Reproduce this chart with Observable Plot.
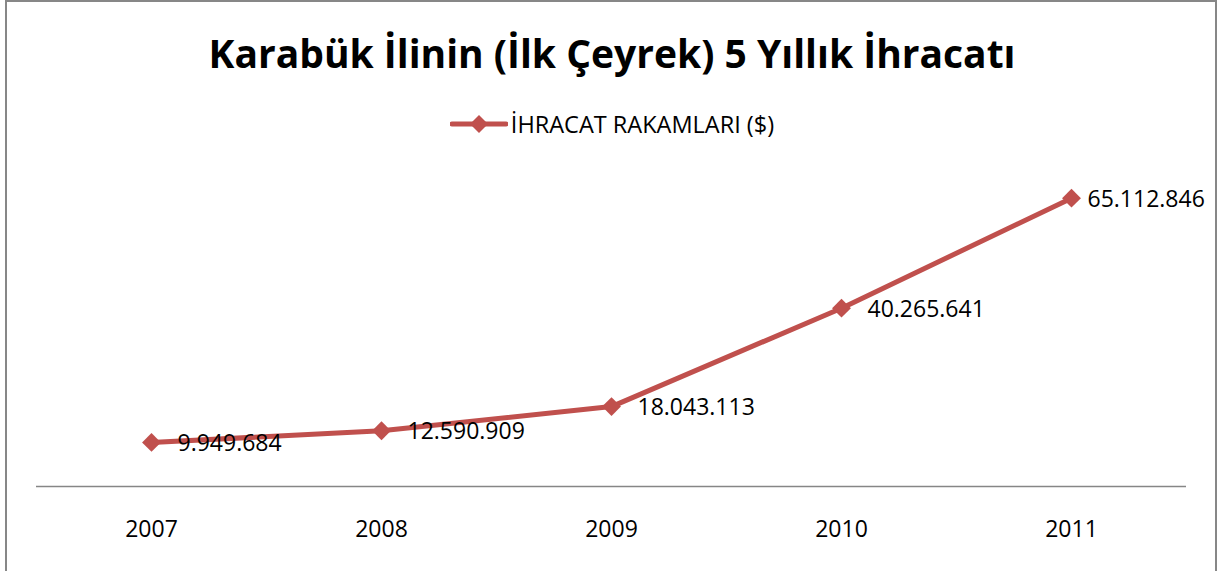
<!DOCTYPE html>
<html>
<head>
<meta charset="utf-8">
<script src="https://cdn.jsdelivr.net/npm/d3@7"></script>
<script src="https://cdn.jsdelivr.net/npm/@observablehq/plot@0.6"></script>
<style>
  html, body { margin: 0; padding: 0; background: #fff; }
  #wrap { position: relative; width: 1224px; height: 571px; overflow: hidden; font-family: "Open Sans", sans-serif; color: #000; }
  #frame { position: absolute; left: 5px; top: 0px; width: 1208px; height: 640px; border: 2px solid #878787; pointer-events: none; }
  #title { height: 106px; line-height: 106px; font-size: 39px; font-weight: 700; text-align: center; white-space: nowrap; }
  #legend { height: 36px; line-height: 36px; font-size: 23.5px; text-align: center; white-space: nowrap; }
  #legend svg { vertical-align: middle; margin-right: 3px; position: relative; top: -3px; }
  #chart svg { display: block; }
</style>
</head>
<body>
<div id="wrap">
  <div id="title"></div>
  <div id="legend"></div>
  <div id="chart"></div>
  <div id="frame"></div>
</div>
<script>
const titleText = "Karabük İlinin (İlk Çeyrek) 5 Yıllık İhracatı";
const seriesName = "İHRACAT RAKAMLARI ($)";
const years = ["2007", "2008", "2009", "2010", "2011"];
const values = [9949684, 12590909, 18043113, 40265641, 65112846];
const lineColor = "#c0504d";

const data = years.map((y, i) => ({year: y, value: values[i], i}));
const tr = d3.formatLocale({decimal: ",", thousands: ".", grouping: [3], currency: ["", "$"]});
const fmt = tr.format(",d");

document.getElementById("title").textContent = titleText;

// legend swatch
const leg = document.getElementById("legend");
leg.innerHTML = `<svg width="58" height="24" viewBox="0 0 58 24"><line x1="2" y1="12" x2="56" y2="12" stroke="${lineColor}" stroke-width="5" stroke-linecap="round"/><path d="M29,3 L38,12 L29,21 L20,12 Z" fill="${lineColor}"/></svg>`;
leg.appendChild(document.createTextNode(seriesName));

const H = 571 - 106 - 36;
const chart = Plot.plot({
  width: 1224,
  height: H,
  marginLeft: 36,
  marginRight: 38,
  marginTop: 34,
  marginBottom: 85,
  style: {fontFamily: "Open Sans, sans-serif", color: "#000", background: "transparent"},
  x: {type: "point", domain: years, padding: 0.5, label: null},
  y: {domain: [0, 70000000], axis: null},
  marks: [
    Plot.ruleY([0], {stroke: "#868686", strokeWidth: 1.5}),
    Plot.axisX({tickSize: 0, tickPadding: 34, fontSize: 23, label: null}),
    Plot.line(data, {x: "year", y: "value", stroke: lineColor, strokeWidth: 5}),
    Plot.dot(data, {x: "year", y: "value", symbol: "diamond2", r: 8.5, fill: lineColor, stroke: "none"}),
    Plot.text(data.filter(d => d.i < 4), {x: "year", y: "value", text: d => fmt(d.value), textAnchor: "start", dx: 26, dy: 1, fontSize: 23, fill: "#000"}),
    Plot.text(data.filter(d => d.i === 4), {x: "year", y: "value", text: d => fmt(d.value), textAnchor: "start", dx: 16, dy: 1, fontSize: 23, fill: "#000"})
  ]
});
document.getElementById("chart").appendChild(chart);
</script>
</body>
</html>
